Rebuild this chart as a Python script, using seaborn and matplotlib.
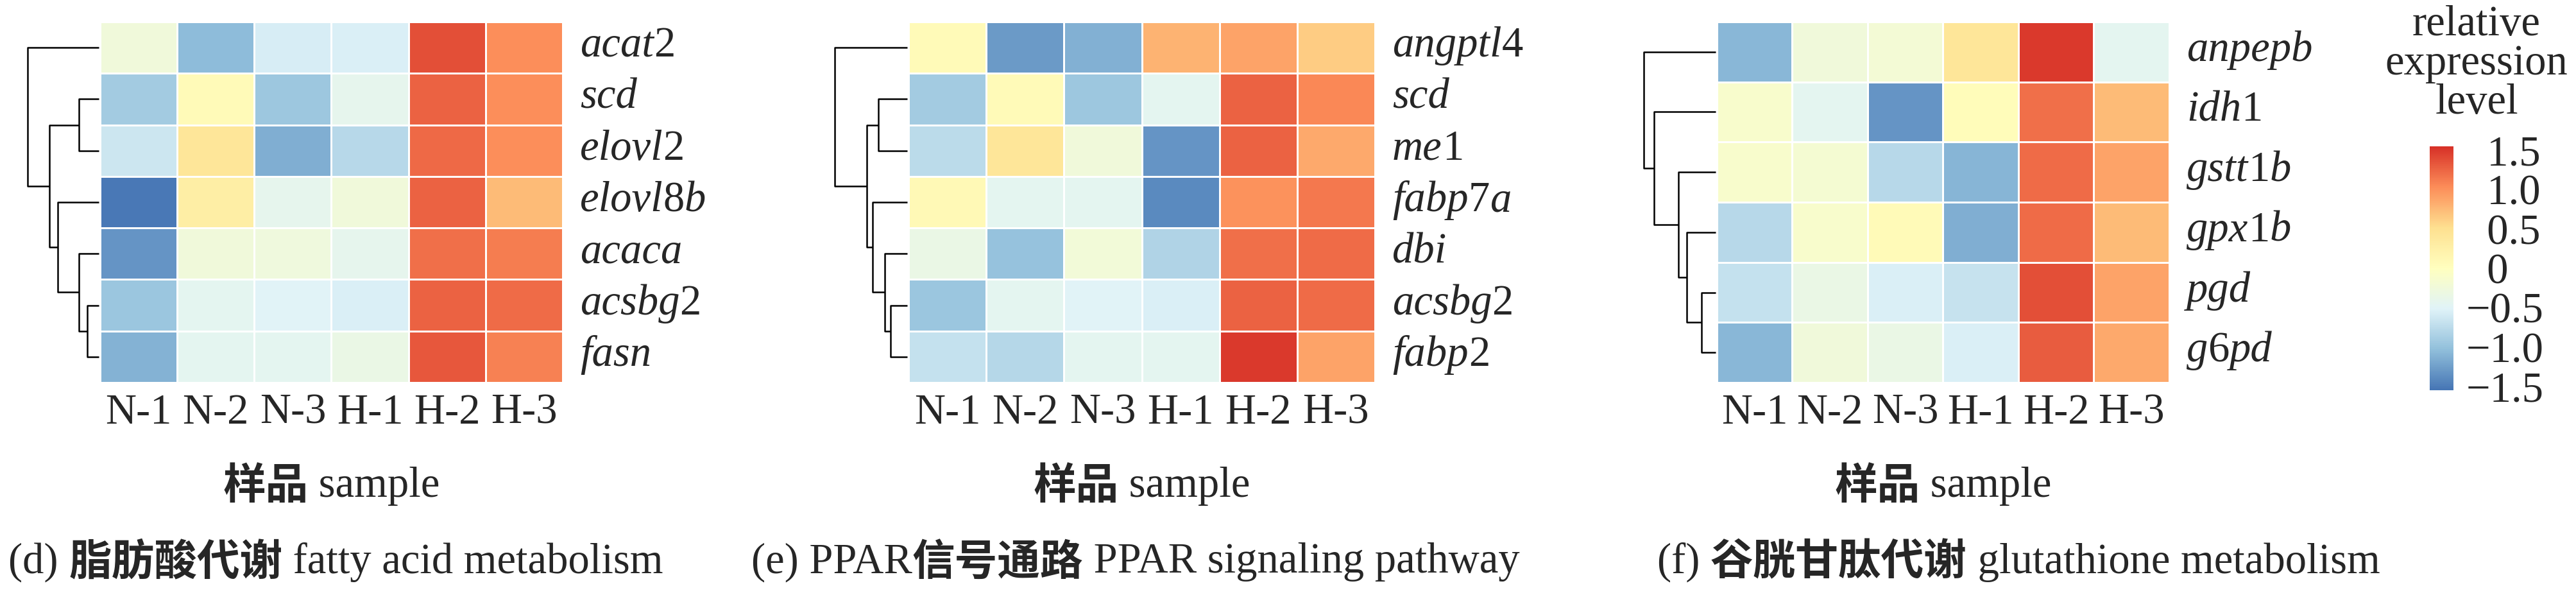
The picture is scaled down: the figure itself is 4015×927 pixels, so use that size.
import re
import numpy as np
import pandas as pd
import matplotlib
matplotlib.use("Agg")
import matplotlib.pyplot as plt
from matplotlib.colors import LinearSegmentedColormap
import seaborn as sns

sns.set_style("white")
plt.rcParams['font.family'] = ['Liberation Serif', 'Noto Sans CJK SC']

samples = ["N-1", "N-2", "N-3", "H-1", "H-2", "H-3"]

# (d) fatty acid metabolism
genes_d = ["acat2", "scd", "elovl2", "elovl8b", "acaca", "acsbg2", "fasn"]
values_d = [
    [-0.25, -1.05, -0.58, -0.55, 1.38, 1.02],
    [-0.92, 0.08, -0.95, -0.42, 1.27, 1.02],
    [-0.65, 0.42, -1.15, -0.78, 1.23, 1.02],
    [-1.52, 0.28, -0.42, -0.25, 1.27, 0.75],
    [-1.33, -0.25, -0.27, -0.42, 1.19, 1.12],
    [-0.96, -0.44, -0.50, -0.55, 1.27, 1.22],
    [-1.12, -0.44, -0.44, -0.35, 1.33, 1.10],
]
# merges (child a, child b, height) for the row dendrogram
tree_d = [(5, 6, 18), (1, 2, 31), (4, 7, 31), (3, 9, 64), (8, 10, 77), (0, 11, 111)]

# (e) PPAR signaling pathway
genes_e = ["angptl4", "scd", "me1", "fabp7a", "dbi", "acsbg2", "fabp2"]
values_e = [
    [0.08, -1.29, -1.13, 0.79, 0.89, 0.64],
    [-0.92, 0.08, -0.95, -0.44, 1.27, 1.06],
    [-0.76, 0.42, -0.25, -1.33, 1.27, 0.85],
    [0.10, -0.44, -0.44, -1.40, 1.00, 1.15],
    [-0.35, -1.00, -0.22, -0.83, 1.19, 1.22],
    [-0.96, -0.44, -0.50, -0.55, 1.27, 1.22],
    [-0.70, -0.79, -0.44, -0.44, 1.50, 0.89],
]
tree_e = [(5, 6, 26), (1, 2, 45), (4, 7, 35), (3, 9, 54), (8, 10, 63), (0, 11, 113)]

# (f) glutathione metabolism
genes_f = ["anpepb", "idh1", "gstt1b", "gpx1b", "pgd", "g6pd"]
values_f = [
    [-1.08, -0.25, -0.20, 0.42, 1.50, -0.44],
    [-0.12, -0.44, -1.33, 0.05, 1.19, 0.75],
    [-0.12, -0.18, -0.78, -1.10, 1.22, 0.89],
    [-0.78, -0.12, 0.08, -1.15, 1.22, 0.75],
    [-0.70, -0.35, -0.55, -0.68, 1.38, 0.89],
    [-1.08, -0.25, -0.35, -0.55, 1.30, 0.85],
]
tree_f = [(4, 5, 22), (3, 6, 45), (2, 7, 58), (1, 8, 96), (0, 9, 112)]

# caption pieces: (latin prefix, chinese, latin suffix)
captions = [("(d) ", "脂肪酸代谢", " fatty acid metabolism"),
            ("(e) PPAR", "信号通路", " PPAR signaling pathway"),
            ("(f) ", "谷胱甘肽代谢", " glutathione metabolism")]
xlabel = ("", "样品", " sample")
cbar_ticks = [1.5, 1.0, 0.5, 0, -0.5, -1.0, -1.5]
cbar_labels = ["  1.5", "  1.0", "  0.5", "  0", "\u22120.5", "\u22121.0", "\u22121.5"]

# pheatmap default palette
cmap = LinearSegmentedColormap.from_list(
    "pheat", ["#4575B4", "#91BFDB", "#E0F3F8", "#FFFFBF", "#FEE090", "#FC8D59", "#D73027"])

W, H = 4016, 927
FS = 48
TOP, BOTTOM = 34, 596


def box(l, t, r, b):
    return [l / W, 1 - b / H, (r - l) / W, (b - t) / H]


def draw_tree(ax, merges, n):
    ypos = {i: i + 0.5 for i in range(n)}
    hpos = {i: 0.0 for i in range(n)}
    for k, (a, b, h) in enumerate(merges):
        ya, yb = ypos[a], ypos[b]
        ax.plot([hpos[a], h, h, hpos[b]], [ya, ya, yb, yb], color="black",
                lw=1.8, clip_on=False, solid_capstyle="butt")
        ypos[n + k] = (ya + yb) / 2
        hpos[n + k] = h
    ax.set_ylim(n, 0)
    ax.set_xlim(112, 0)
    ax.axis("off")


def place_pieces(fig, x, y, pieces, ha="left", va="center"):
    """draw text pieces side by side; x, y in pixels from top-left"""
    renderer = fig.canvas.get_renderer()
    texts, widths = [], []
    for s, st in pieces:
        if not s:
            continue
        t = fig.text(0, 1 - y / H, s, ha="left", va=va, fontsize=FS, **st)
        texts.append(t)
        widths.append(t.get_window_extent(renderer).width)
    cur = x - sum(widths) / 2 if ha == "center" else x
    for t, w in zip(texts, widths):
        t.set_x(cur / W)
        cur += w


SERIF = dict(family="Liberation Serif")
SERIF_IT = dict(family="Liberation Serif", style="italic")
CJK = dict(family="Noto Sans CJK SC", weight="bold")


def mixed(pieces):
    return list(zip(pieces, [SERIF, CJK, SERIF]))


def gene_pieces(name):
    # letters italic, digits upright
    return [(p, SERIF if p.isdigit() else SERIF_IT) for p in re.findall(r"[a-z]+|\d+", name)]


fig = plt.figure(figsize=(W / 100, H / 100), dpi=100)

panels = [
    (genes_d, values_d, tree_d, 156, 877, 13),
    (genes_e, values_e, tree_e, 1416, 2143, 1171),
    (genes_f, values_f, tree_f, 2676, 3381, 2583),
]

for i, (genes, vals, tree, left, right, cap_x) in enumerate(panels):
    df = pd.DataFrame(vals, index=genes, columns=samples)
    ax = fig.add_axes(box(left, TOP, right, BOTTOM))
    last = i == len(panels) - 1
    if last:
        cax = fig.add_axes(box(3787, 228, 3824, 608))
        kws = dict(cbar=True, cbar_ax=cax, cbar_kws={"ticks": cbar_ticks})
    else:
        kws = dict(cbar=False)
    sns.heatmap(df, ax=ax, cmap=cmap, vmin=-1.55, vmax=1.55, linewidths=2,
                linecolor="white", xticklabels=True, yticklabels=False, **kws)
    ax.set_xlabel("")
    ax.set_ylabel("")
    ax.tick_params(axis="x", length=0, pad=12, labelsize=FS, labelrotation=0)

    # gene names on the right, italic letters with upright digits
    row_h = (BOTTOM - TOP) / len(genes)
    for r, g in enumerate(genes):
        place_pieces(fig, right + 27, TOP + (r + 0.5) * row_h + 14, gene_pieces(g), va="baseline")

    tax = fig.add_axes(box(left - 2 - 112, TOP, left - 2, BOTTOM))
    draw_tree(tax, tree, len(genes))

    place_pieces(fig, (left + right) / 2, 757, mixed(xlabel), ha="center")
    place_pieces(fig, cap_x, 876, mixed(captions[i]))

    if last:
        cb = ax.collections[0].colorbar
        cb.outline.set_visible(False)
        cb.set_ticks(cbar_ticks, labels=cbar_labels)
        cax.tick_params(length=0, pad=14, labelsize=FS)

fig.text(3860 / W, 1 - 100 / H, "relative\nexpression\nlevel", ha="center", va="center",
         fontsize=FS, linespacing=1.0)

fig.savefig("out.png", dpi=100)
